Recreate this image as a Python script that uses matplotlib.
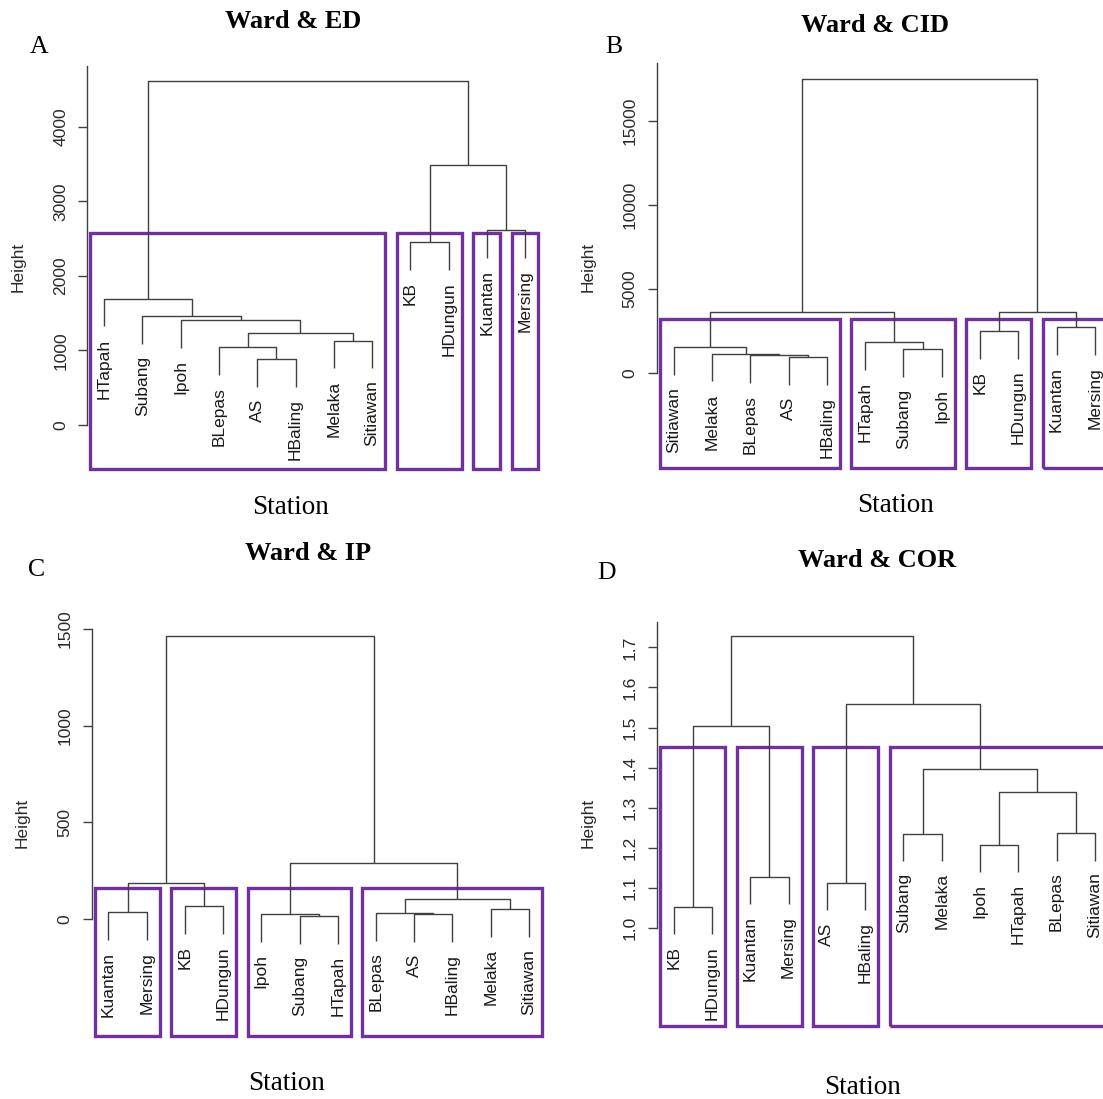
import matplotlib
matplotlib.use("Agg")
import matplotlib.pyplot as plt
from matplotlib.patches import Rectangle
from matplotlib.transforms import offset_copy

W, H = 1103, 1099
SANS = "Liberation Sans"
SERIF = "Liberation Serif"
PURPLE = "#7030A0"
INK = "#404040"

# merges: str = leaf, int = index of an earlier merge
leaves_ed = ["HTapah", "Subang", "Ipoh", "BLepas", "AS", "HBaling",
             "Melaka", "Sitiawan", "KB", "HDungun", "Kuantan", "Mersing"]
merges_ed = [("AS", "HBaling"), ("BLepas", 0), ("Melaka", "Sitiawan"), (1, 2),
             ("Ipoh", 3), ("Subang", 4), ("HTapah", 5), ("KB", "HDungun"),
             ("Kuantan", "Mersing"), (7, 8), (6, 9)]
heights_ed = [885, 1041, 1131, 1238, 1403, 1461, 1694, 2453, 2614, 3490, 4616]
groups_ed = [(1, 8), (9, 10), (11, 11), (12, 12)]

leaves_cid = ["Sitiawan", "Melaka", "BLepas", "AS", "HBaling", "HTapah",
              "Subang", "Ipoh", "KB", "HDungun", "Kuantan", "Mersing"]
merges_cid = [("AS", "HBaling"), ("BLepas", 0), ("Melaka", 1), ("Sitiawan", 2),
              ("Subang", "Ipoh"), ("HTapah", 4), ("KB", "HDungun"),
              ("Kuantan", "Mersing"), (3, 5), (6, 7), (8, 9)]
heights_cid = [932, 1032, 1131, 1508, 1389, 1825, 2480, 2698, 3610, 3630, 17479]
groups_cid = [(1, 5), (6, 8), (9, 10), (11, 12)]

leaves_ip = ["Kuantan", "Mersing", "KB", "HDungun", "Ipoh", "Subang",
             "HTapah", "BLepas", "AS", "HBaling", "Melaka", "Sitiawan"]
merges_ip = [("Subang", "HTapah"), ("Ipoh", 0), ("AS", "HBaling"), ("BLepas", 2),
             ("Kuantan", "Mersing"), ("Melaka", "Sitiawan"), ("KB", "HDungun"),
             (3, 5), (4, 6), (1, 7), (8, 9)]
heights_ip = [15, 26, 26, 32, 35, 50, 65, 104, 187, 289, 1463]
groups_ip = [(1, 2), (3, 4), (5, 7), (8, 12)]

leaves_cor = ["KB", "HDungun", "Kuantan", "Mersing", "AS", "HBaling",
              "Subang", "Melaka", "Ipoh", "HTapah", "BLepas", "Sitiawan"]
merges_cor = [("KB", "HDungun"), ("AS", "HBaling"), ("Kuantan", "Mersing"),
              ("Ipoh", "HTapah"), ("Subang", "Melaka"), ("BLepas", "Sitiawan"),
              (3, 5), (4, 6), (0, 2), (1, 7), (8, 9)]
heights_cor = [1.052, 1.112, 1.128, 1.208, 1.234, 1.236, 1.340, 1.396, 1.504, 1.558, 1.728]
groups_cor = [(1, 2), (3, 4), (5, 6), (7, 12)]

panels = [
    dict(title="Ward & ED", letter="A", leaves=leaves_ed, merges=merges_ed,
         heights=heights_ed, groups=groups_ed, box_y=(-594, 2571),
         ax_px=(87.3, 542.2, 65.7, 425.0), ylim=(0, 4818),
         yticks=[0, 1000, 2000, 3000, 4000], fmt="{:.0f}",
         title_px=(293, 21.7), letter_px=(39.3, 46.7),
         station_px=(291, 508), height_px=(18.2, 266.7)),
    dict(title="Ward & CID", letter="B", leaves=leaves_cid, merges=merges_cid,
         heights=heights_cid, groups=groups_cid, box_y=(-5655, 3179),
         ax_px=(656.9, 1111.7, 63.3, 372.7), ylim=(0, 18417),
         yticks=[0, 5000, 10000, 15000], fmt="{:.0f}",
         title_px=(875, 25), letter_px=(614.2, 46.7),
         station_px=(895.6, 505), height_px=(588.1, 266.7)),
    dict(title="Ward & IP", letter="C", leaves=leaves_ip, merges=merges_ip,
         heights=heights_ip, groups=groups_ip, box_y=(-608, 157),
         ax_px=(91.6, 545.7, 628.9, 918.8), ylim=(0, 1500),
         yticks=[0, 500, 1000, 1500], fmt="{:.0f}",
         title_px=(308, 554), letter_px=(36.8, 570.5),
         station_px=(286, 1083), height_px=(21.7, 823)),
    dict(title="Ward & COR", letter="D", leaves=leaves_cor, merges=merges_cor,
         heights=heights_cor, groups=groups_cor, box_y=(0.755, 1.452),
         ax_px=(656.9, 1111.7, 621.7, 928.1), ylim=(1.0, 1.764),
         yticks=[1.0, 1.1, 1.2, 1.3, 1.4, 1.5, 1.6, 1.7], fmt="{:.1f}",
         title_px=(877, 560.4), letter_px=(606.4, 573),
         station_px=(863, 1088), height_px=(588.1, 823)),
]


def layout(leaves, merges, heights, hang=0.1):
    pos = {name: i + 1 for i, name in enumerate(leaves)}
    drop = hang * (max(heights) - min(heights))
    node_x, segs, leaf_y = [], [], {}
    for (a, b), h in zip(merges, heights):
        xs, ys = [], []
        for c in (a, b):
            if isinstance(c, str):
                xs.append(pos[c])
                ys.append(h - drop)
                leaf_y[c] = h - drop
            else:
                xs.append(node_x[c])
                ys.append(heights[c])
        node_x.append((xs[0] + xs[1]) / 2)
        segs.append(([xs[0], xs[0], xs[1], xs[1]], [ys[0], h, h, ys[1]]))
    return pos, leaf_y, segs


def ftext(fig, px, s, **kw):
    fig.text(px[0] / W, 1 - px[1] / H, s, ha="center", va="center", **kw)


fig = plt.figure(figsize=(W / 100, H / 100), dpi=100)

for p in panels:
    x0, x1, yt, yb = p["ax_px"]
    ax = fig.add_axes([x0 / W, 1 - yb / H, (x1 - x0) / W, (yb - yt) / H])
    ax.set_xlim(0.56, 12.44)
    ax.set_ylim(*p["ylim"])
    for s in ["top", "right", "bottom"]:
        ax.spines[s].set_visible(False)
    ax.spines["left"].set_color(INK)
    ax.spines["left"].set_linewidth(1.0)
    ax.set_xticks([])
    ax.set_yticks(p["yticks"])
    ax.set_yticklabels([p["fmt"].format(v) for v in p["yticks"]],
                       rotation=90, va="center", fontfamily=SANS, fontsize=12.6, color="#2a2a2a")
    ax.tick_params(axis="y", length=6.8, width=1.0, color=INK, pad=7)
    ax.patch.set_alpha(0)

    pos, leaf_y, segs = layout(p["leaves"], p["merges"], p["heights"])
    for xs, ys in segs:
        ax.plot(xs, ys, color=INK, lw=1.0, clip_on=False, solid_capstyle="butt")

    lab_tr = offset_copy(ax.transData, fig=fig, y=-12, units="dots")
    for name in p["leaves"]:
        ax.text(pos[name], leaf_y[name], name, rotation=90, ha="center", va="top",
                fontfamily=SANS, fontsize=12.5, color="#1a1a1a",
                transform=lab_tr, clip_on=False)

    lo, hi = p["box_y"]
    for first, last in p["groups"]:
        ax.add_patch(Rectangle((first - 0.36, lo), last - first + 0.70, hi - lo,
                               fill=False, edgecolor=PURPLE, lw=2.4, clip_on=False))

    ftext(fig, p["title_px"], p["title"], fontfamily=SERIF, fontweight="bold", fontsize=19)
    ftext(fig, p["letter_px"], p["letter"], fontfamily=SERIF, fontsize=18.5)
    ftext(fig, p["station_px"], "Station", fontfamily=SERIF, fontsize=19.5)
    ftext(fig, p["height_px"], "Height", fontfamily=SANS, fontsize=12.5,
          rotation=90, color="#2a2a2a")

fig.savefig("out.png", dpi=100)
